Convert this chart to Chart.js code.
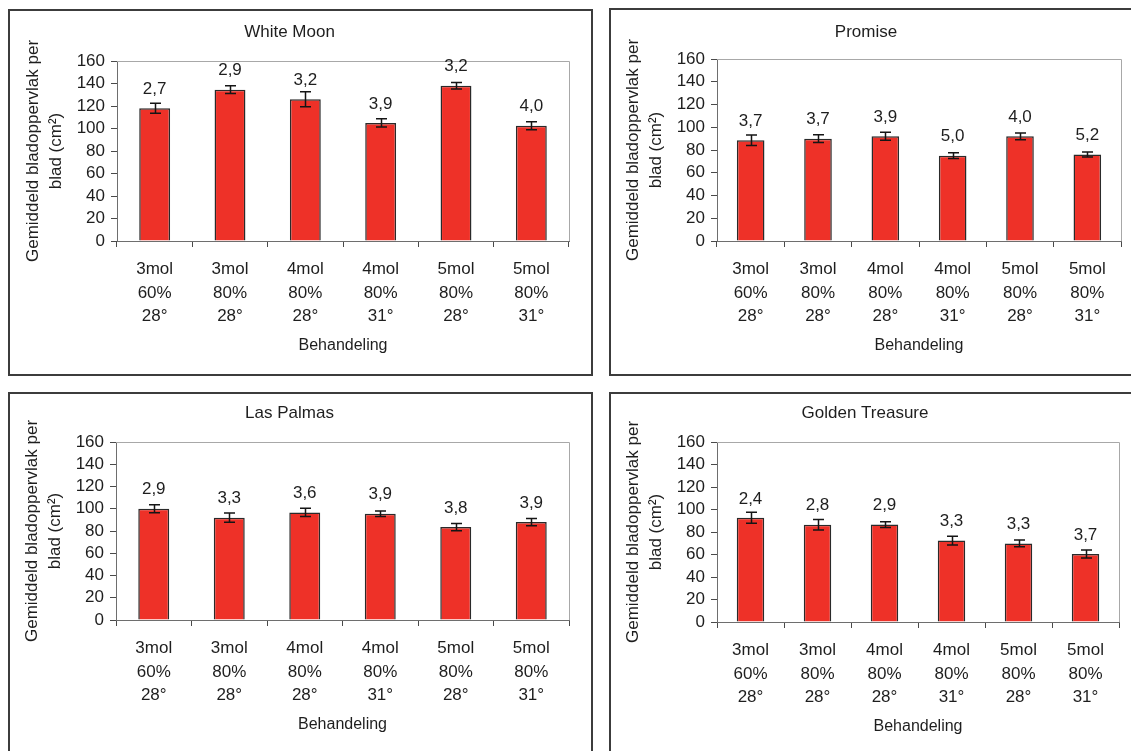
<!DOCTYPE html>
<html lang="nl">
<head>
<meta charset="utf-8">
<title>Gemiddeld bladoppervlak per blad</title>
<script src="https://cdn.jsdelivr.net/npm/chart.js@4.4.1/dist/chart.umd.min.js"></script>
<style>
  html, body { margin: 0; padding: 0; background: #fff; }
  body { width: 1131px; height: 751px; overflow: hidden; position: relative; }
  .panel { position: absolute; box-sizing: border-box; border: 2px solid #3c3c3c; background: #fff; }
  .panel .box { position: absolute; left: 0; top: 0; }
</style>
</head>
<body>
<div class="panel" id="panel-wm"><div class="box"><canvas id="chart-wm"></canvas></div></div>
<div class="panel" id="panel-pr"><div class="box"><canvas id="chart-pr"></canvas></div></div>
<div class="panel" id="panel-lp"><div class="box"><canvas id="chart-lp"></canvas></div></div>
<div class="panel" id="panel-gt"><div class="box"><canvas id="chart-gt"></canvas></div></div>

<script>
// Treatments (mol, RV, temperature)
const categories = [
  ['3mol', '60%', '28°'],
  ['3mol', '80%', '28°'],
  ['4mol', '80%', '28°'],
  ['4mol', '80%', '31°'],
  ['5mol', '80%', '28°'],
  ['5mol', '80%', '31°']
];
const yTickValues = [0, 20, 40, 60, 80, 100, 120, 140, 160];

// White Moon
const whiteMoonArea = [118, 134.5, 126, 105, 138, 102.5];
const whiteMoonError = [4.5, 3.4, 6.6, 3.7, 2.9, 3.5];
const whiteMoonNotes = ['2,7', '2,9', '3,2', '3,9', '3,2', '4,0'];

// Promise
const promiseArea = [88.5, 90, 92, 75, 92, 76];
const promiseError = [4.6, 3.3, 3.5, 2.5, 3, 2.2];
const promiseNotes = ['3,7', '3,7', '3,9', '5,0', '4,0', '5,2'];

// Las Palmas
const lasPalmasArea = [100, 92, 96.7, 95.5, 83.5, 88];
const lasPalmasError = [3.6, 4.2, 3.7, 2.4, 3.3, 3.2];
const lasPalmasNotes = ['2,9', '3,3', '3,6', '3,9', '3,8', '3,9'];

// Golden Treasure
const goldenTreasureArea = [92.6, 86.4, 86.6, 72.4, 69.8, 60.4];
const goldenTreasureError = [4.9, 4.7, 2.5, 3.9, 3.0, 3.6];
const goldenTreasureNotes = ['2,4', '2,8', '2,9', '3,3', '3,3', '3,7'];

const FONT = '"Liberation Sans", Arial, sans-serif';
const TEXT = '#1e1e1e';

// frame: [left, top, width, height], plot: [left, top, right, bottom], titleY: centre of heading
const layouts = {
  wm: { frame: [8, 9, 585, 367], plot: [117, 61, 569, 241], titleY: 32 },
  pr: { frame: [609, 8, 526, 368], plot: [717, 59, 1121, 241], titleY: 32 },
  lp: { frame: [8, 392, 585, 380], plot: [116, 442, 569, 620], titleY: 413 },
  gt: { frame: [609, 392, 526, 380], plot: [717, 442, 1119, 622], titleY: 413 }
};

// Top and right edge of the plot area
const plotFrame = {
  id: 'plotFrame',
  beforeDatasetsDraw(chart) {
    const { ctx, chartArea: a } = chart;
    ctx.save();
    ctx.strokeStyle = '#a8a8a8';
    ctx.lineWidth = 1;
    ctx.beginPath();
    ctx.moveTo(Math.round(a.left), Math.round(a.top) + 0.5);
    ctx.lineTo(Math.round(a.right) + 0.5, Math.round(a.top) + 0.5);
    ctx.lineTo(Math.round(a.right) + 0.5, Math.round(a.bottom));
    ctx.stroke();
    ctx.restore();
  }
};

// Standard error whiskers on each bar
const errorBars = {
  id: 'errorBars',
  afterDatasetsDraw(chart) {
    const { ctx } = chart;
    const y = chart.scales.y;
    const ds = chart.data.datasets[0];
    const meta = chart.getDatasetMeta(0);
    ctx.save();
    ctx.strokeStyle = '#151515';
    ctx.lineWidth = 1.5;
    meta.data.forEach((bar, i) => {
      const v = ds.data[i];
      const top = y.getPixelForValue(v + ds.errors[i]);
      const bot = y.getPixelForValue(v - ds.errors[i]);
      const x = Math.round(bar.x) + 0.5;
      ctx.beginPath();
      ctx.moveTo(x, top); ctx.lineTo(x, bot);
      ctx.moveTo(x - 5.5, top); ctx.lineTo(x + 5.5, top);
      ctx.moveTo(x - 5.5, bot); ctx.lineTo(x + 5.5, bot);
      ctx.stroke();
    });
    ctx.restore();
  }
};

// Number written above each bar
const barNotes = {
  id: 'barNotes',
  afterDatasetsDraw(chart) {
    const { ctx } = chart;
    const ds = chart.data.datasets[0];
    const meta = chart.getDatasetMeta(0);
    ctx.save();
    ctx.font = '17px ' + FONT;
    ctx.fillStyle = TEXT;
    ctx.textAlign = 'center';
    ctx.textBaseline = 'middle';
    meta.data.forEach((bar, i) => {
      ctx.fillText(ds.notes[i], bar.x, bar.y - 19);
    });
    ctx.restore();
  }
};

function makeChart(id, name, values, errors, notes) {
  const lay = layouts[id];
  const [fx, fy, fw, fh] = lay.frame;
  const [ax, ay, ax2, ay2] = lay.plot;
  const cx = fx + 2, cy = fy + 2;
  const cw = fw - 4, ch = 364;

  const panel = document.getElementById('panel-' + id);
  panel.style.left = fx + 'px';
  panel.style.top = fy + 'px';
  panel.style.width = fw + 'px';
  panel.style.height = fh + 'px';
  const box = panel.querySelector('.box');
  box.style.width = cw + 'px';
  box.style.height = ch + 'px';

  const titleLh = 17 * 1.2;
  const yTitleLh = 23;
  const xTitleLh = 16 * 1.2;

  return new Chart(document.getElementById('chart-' + id), {
    type: 'bar',
    data: {
      labels: categories,
      datasets: [{
        data: values,
        errors: errors,
        notes: notes,
        backgroundColor: '#ee3128',
        borderColor: '#2a2a2a',
        borderWidth: 1.5,
        barPercentage: 0.41,
        categoryPercentage: 1
      }]
    },
    options: {
      responsive: true,
      maintainAspectRatio: false,
      animation: false,
      layout: { padding: { top: 0, left: 0, bottom: 0, right: cx + cw - ax2 } },
      plugins: {
        legend: { display: false },
        tooltip: { enabled: false },
        title: {
          display: true,
          text: name,
          color: TEXT,
          font: { family: FONT, size: 17, weight: 'normal', lineHeight: 1.2 },
          padding: { top: lay.titleY - cy - titleLh / 2, bottom: ay - lay.titleY - titleLh / 2 }
        }
      },
      scales: {
        x: {
          offset: true,
          grid: { offset: true, drawOnChartArea: false, drawTicks: true, tickLength: 6, color: '#4a4a4a' },
          border: { display: true, color: '#6e6e6e', width: 1 },
          ticks: {
            color: TEXT,
            font: { family: FONT, size: 17, lineHeight: 1.38 },
            padding: 11,
            maxRotation: 0,
            autoSkip: false
          },
          title: {
            display: true,
            text: 'Behandeling',
            color: TEXT,
            font: { family: FONT, size: 16, lineHeight: 1.2 },
            padding: { top: 0, bottom: cy + ch - ay2 - 105 - xTitleLh / 2 }
          },
          afterFit(scale) { scale.height = cy + ch - ay2; }
        },
        y: {
          min: 0,
          max: 160,
          afterBuildTicks(scale) { scale.ticks = yTickValues.map(v => ({ value: v })); },
          grid: { drawOnChartArea: false, drawTicks: true, tickLength: 6, color: '#4a4a4a' },
          border: { display: true, color: '#6e6e6e', width: 1 },
          ticks: {
            color: TEXT,
            font: { family: FONT, size: 17, lineHeight: 1 },
            padding: 6,
            autoSkip: false
          },
          title: {
            display: true,
            text: ['Gemiddeld bladoppervlak per', 'blad (cm²)'],
            color: TEXT,
            font: { family: FONT, size: 17, lineHeight: yTitleLh / 17 },
            padding: { top: (ax - 84) - cx - yTitleLh / 2, bottom: 0 }
          },
          afterFit(scale) { scale.width = ax - cx; }
        }
      }
    },
    plugins: [plotFrame, errorBars, barNotes]
  });
}

document.addEventListener('DOMContentLoaded', () => {
  makeChart('wm', 'White Moon', whiteMoonArea, whiteMoonError, whiteMoonNotes);
  makeChart('pr', 'Promise', promiseArea, promiseError, promiseNotes);
  makeChart('lp', 'Las Palmas', lasPalmasArea, lasPalmasError, lasPalmasNotes);
  makeChart('gt', 'Golden Treasure', goldenTreasureArea, goldenTreasureError, goldenTreasureNotes);
});
</script>
</body>
</html>
